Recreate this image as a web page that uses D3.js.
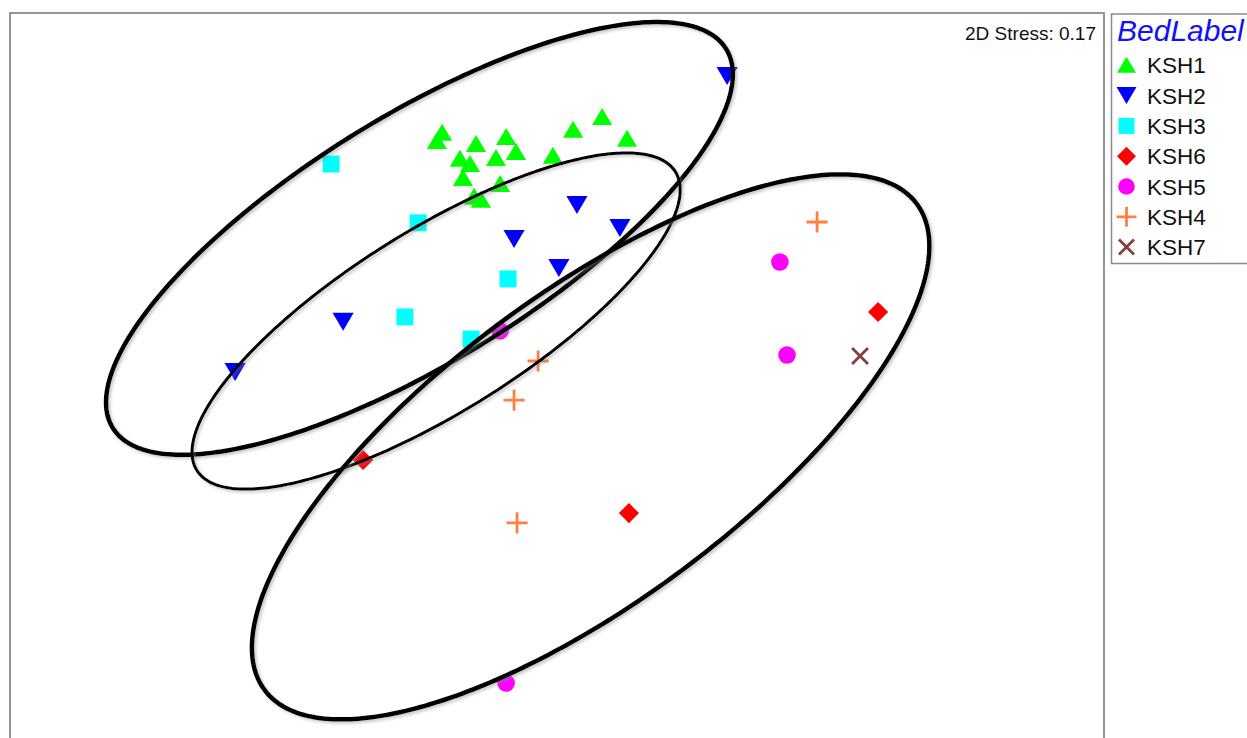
<!DOCTYPE html>
<html>
<head>
<meta charset="utf-8">
<script src="https://cdn.jsdelivr.net/npm/d3@7"></script>
<style>
  html, body { margin: 0; padding: 0; background: #ffffff; overflow: hidden; }
  svg { display: block; }
</style>
</head>
<body>
<div id="chart"></div>
<script>
// ---------- data (MDS coordinates) ----------
const groups = ["KSH1", "KSH2", "KSH3", "KSH6", "KSH5", "KSH4", "KSH7"];
const groupColors = ["#00ff00", "#0000ff", "#00ffff", "#ff0000", "#ff00ff", "#ff8040", "#804040"];
const groupShapes = ["triUp", "triDown", "square", "diamond", "circle", "plus", "cross"];

const ksh1X = [-0.420, -0.439, -0.296, -0.186, -0.150, -0.223, -0.355, -0.318, -0.344, -0.208, -0.303, -0.278, -0.015, 0.059, 0.165, 0.256];
const ksh1Y = [0.962, 0.932, 0.921, 0.947, 0.892, 0.870, 0.867, 0.848, 0.797, 0.775, 0.728, 0.717, 0.878, 0.973, 1.020, 0.940];
const ksh2X = [0.622, 0.073, -0.157, 0.230, 0.007, -0.782, -1.177];
const ksh2Y = [1.170, 0.698, 0.574, 0.614, 0.468, 0.271, 0.088];
const ksh3X = [-0.826, -0.508, -0.179, -0.556, -0.314];
const ksh3Y = [0.848, 0.633, 0.428, 0.289, 0.208];
const ksh6X = [1.174, 0.263, -0.709];
const ksh6Y = [0.307, -0.428, -0.234];
const ksh5X = [0.815, 0.841, -0.186, -0.208];
const ksh5Y = [0.490, 0.150, -1.049, 0.238];
const ksh4X = [0.951, -0.069, -0.157, -0.146];
const ksh4Y = [0.636, 0.128, -0.015, -0.464];
const ksh7X = [1.108];
const ksh7Y = [0.146];

// ellipses: centre x, centre y, semi-major, semi-minor, angle (deg)
const ellipseCX = [-0.503, -0.442, 0.123];
const ellipseCY = [0.576, 0.274, -0.186];
const ellipseA = [1.318, 1.031, 1.487];
const ellipseB = [0.449, 0.333, 0.561];
const ellipseAngle = [31.7, 31.95, 36.7];
const ellipseWidth = [4.5, 3, 4.5];

const stressLabel = "2D Stress: 0.17";
const legendTitle = "BedLabel";

// ---------- layout ----------
const W = 1247, H = 738;
const plot = { left: 10, right: 1104, top: 13, bottom: 779 };

const svg = d3.select("#chart").append("svg")
  .attr("width", W).attr("height", H)
  .style("font-family", "Arial, 'Liberation Sans', sans-serif");

const defs = svg.append("defs");
const f = defs.append("filter").attr("id", "shadow")
  .attr("x", "-10%").attr("y", "-10%").attr("width", "120%").attr("height", "120%");
f.append("feDropShadow").attr("dx", 2).attr("dy", 2).attr("stdDeviation", 1.5)
  .attr("flood-color", "#888").attr("flood-opacity", 0.45);

const x = d3.scaleLinear().domain([-2, 2]).range([plot.left, plot.right]);
const y = d3.scaleLinear().domain([-1.4, 1.4]).range([plot.bottom, plot.top]);

// frame
svg.append("rect")
  .attr("x", plot.left).attr("y", plot.top)
  .attr("width", plot.right - plot.left).attr("height", plot.bottom - plot.top)
  .attr("fill", "#fff").attr("stroke", "#8a8a8a").attr("stroke-width", 1.8);

// symbol drawing
function symbolPath(shape, s) {
  switch (shape) {
    case "triUp": return `M0,${-8.5*s}L${9.5*s},${7.5*s}L${-9.5*s},${7.5*s}Z`;
    case "triDown": return `M0,${8.5*s}L${10*s},${-8.5*s}L${-10*s},${-8.5*s}Z`;
    case "square": return `M${-8*s},${-8*s}h${16*s}v${16*s}h${-16*s}Z`;
    case "diamond": return `M0,${-9.5*s}L${9.5*s},0L0,${9.5*s}L${-9.5*s},0Z`;
    case "circle": return d3.symbol().type(d3.symbolCircle).size(Math.PI * 8.3 * 8.3 * s * s)();
    case "plus": return `M${-10*s},0H${10*s}M0,${-10*s}V${10*s}`;
    case "cross": return `M${-7.5*s},${-7.5*s}L${7.5*s},${7.5*s}M${7.5*s},${-7.5*s}L${-7.5*s},${7.5*s}`;
  }
}
function drawSymbol(g, shape, color, s) {
  const line = shape === "plus" || shape === "cross";
  g.append("path").attr("d", symbolPath(shape, s))
    .attr("fill", line ? "none" : color)
    .attr("stroke", line ? color : "none")
    .attr("stroke-width", line ? 2.8 : 0);
}

const seriesX = [ksh1X, ksh2X, ksh3X, ksh6X, ksh5X, ksh4X, ksh7X];
const seriesY = [ksh1Y, ksh2Y, ksh3Y, ksh6Y, ksh5Y, ksh4Y, ksh7Y];

const pts = svg.append("g").attr("class", "points");
groups.forEach((gname, gi) => {
  seriesX[gi].forEach((vx, i) => {
    const g = pts.append("g").attr("transform", `translate(${x(vx)},${y(seriesY[gi][i])})`);
    drawSymbol(g, groupShapes[gi], groupColors[gi], 1.06);
  });
});

// ellipses
const ell = svg.append("g").attr("class", "ellipses");
ellipseCX.forEach((cx, k) => {
  const th = ellipseAngle[k] * Math.PI / 180;
  const a = ellipseA[k], b = ellipseB[k];
  const ptsE = d3.range(0, 361).map(i => {
    const t = i / 360 * 2 * Math.PI;
    return [
      cx + a * Math.cos(th) * Math.cos(t) - b * Math.sin(th) * Math.sin(t),
      ellipseCY[k] + a * Math.sin(th) * Math.cos(t) + b * Math.cos(th) * Math.sin(t)
    ];
  });
  ell.append("path")
    .attr("d", d3.line().x(d => x(d[0])).y(d => y(d[1])).curve(d3.curveLinearClosed)(ptsE))
    .attr("fill", "none").attr("stroke", "#000").attr("stroke-width", ellipseWidth[k])
    .attr("filter", "url(#shadow)");
});

// stress label
svg.append("text").attr("x", 1096).attr("y", 40).attr("text-anchor", "end")
  .attr("font-size", 19).attr("fill", "#111").text(stressLabel);

// legend
const lg = svg.append("g").attr("class", "legend");
lg.append("rect").attr("x", 1111.5).attr("y", 14).attr("width", 150).attr("height", 249.5)
  .attr("fill", "#fff").attr("stroke", "#8a8a8a").attr("stroke-width", 1.5);
lg.append("text").attr("x", 1117).attr("y", 41).attr("font-size", 30)
  .attr("font-style", "italic").attr("fill", "#1010ff").text(legendTitle);
groups.forEach((gname, gi) => {
  const by = 73.3 + gi * 30.3;
  const g = lg.append("g").attr("transform", `translate(1126.5,${by - 8})`);
  drawSymbol(g, groupShapes[gi], groupColors[gi], 1.0);
  lg.append("text").attr("x", 1147).attr("y", by).attr("font-size", 22.5)
    .attr("fill", "#111").text(gname);
});
</script>
</body>
</html>
